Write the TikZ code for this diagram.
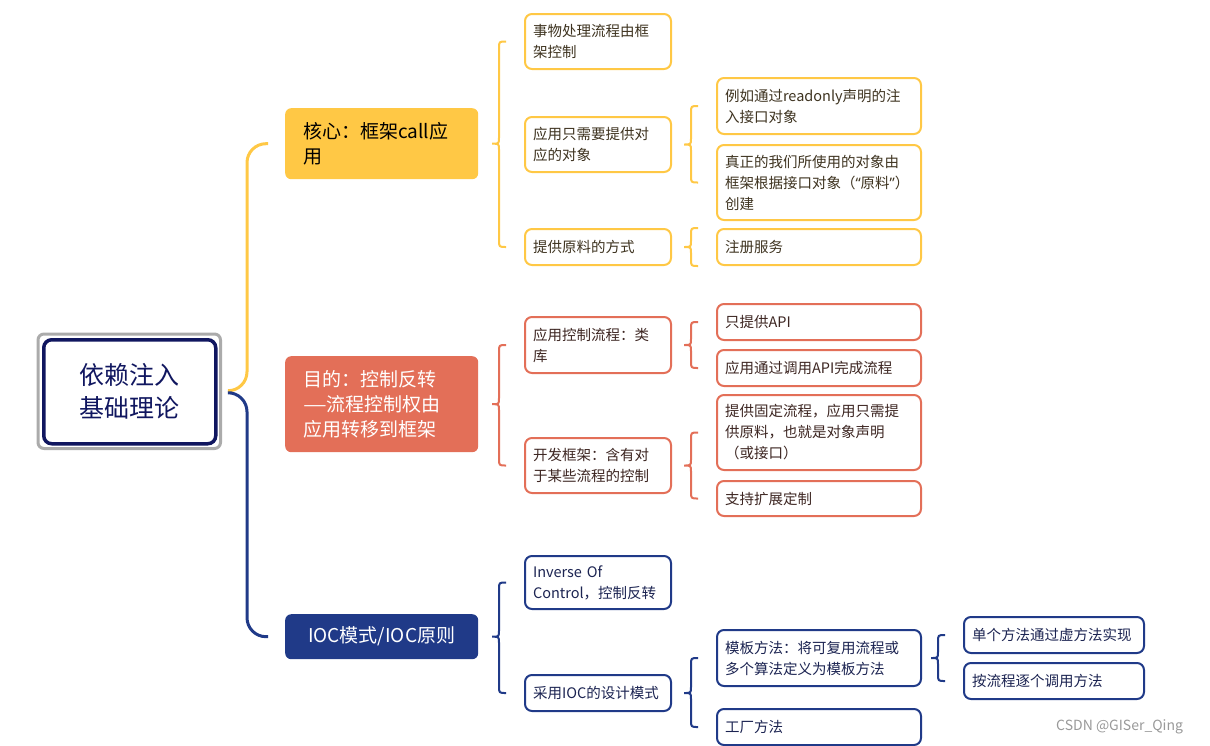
\documentclass[tikz,border=0pt]{standalone}
\usepackage{fontspec}
\setmainfont{Noto Sans CJK SC}
\newfontfamily\latinq{Noto Sans}
\usetikzlibrary{calc}
\definecolor{ycol}{HTML}{FFC845}
\definecolor{rcol}{HTML}{E36F58}
\definecolor{ncol}{HTML}{203A88}
\definecolor{rootcol}{HTML}{10165F}
\definecolor{ytext}{HTML}{3E3320}
\definecolor{rtext}{HTML}{3D2622}
\definecolor{ntext}{HTML}{1C2452}
\newcommand\mybrace[4]{\draw[#1] let \p1=(#3), \p2=(#4), \p3=(#2.east) in
  (\x1-18pt,\y1) .. controls (\x1-25pt,\y1) .. (\x1-25pt,\y1-7pt)
  -- (\x1-25pt,\y3+6pt) .. controls (\x1-25pt,\y3) .. (\x1-32pt,\y3)
  .. controls (\x1-25pt,\y3) .. (\x1-25pt,\y3-6pt)
  -- (\x1-25pt,\y2+7pt) .. controls (\x1-25pt,\y2) .. (\x1-18pt,\y2);}
\tikzset{
  box/.style={draw, rounded corners=7, line width=2pt, fill=white, anchor=north west,
    align=left, inner xsep=8pt, inner ysep=0pt, font=\fontsize{14.5}{21}\selectfont},
  l2/.style={box, text width=130pt, minimum width=146pt},
  l3/.style={box, text width=188pt, minimum width=204pt},
  l4/.style={box, text width=164pt, minimum width=180pt},
  yb/.style={draw=ycol, text=ytext},
  rb/.style={draw=rcol, text=rtext},
  nb/.style={draw=ncol, text=ntext},
  main/.style={rounded corners=6, anchor=north west, inner xsep=18pt, inner ysep=0pt,
    minimum width=193pt, font=\fontsize{19}{25}\selectfont},
  brc/.style={line width=2pt},
  mline/.style={line width=3pt, rounded corners=19},
}
\begin{document}
\begin{tikzpicture}[x=1pt,y=-1pt]
\useasboundingbox (0,0) rectangle (1210,745);
% root
\node[draw=rootcol, line width=3.5pt, rounded corners=8, anchor=north west,
  minimum width=172pt, minimum height=104pt, align=center, text=rootcol,
  font=\fontsize{25}{33}\selectfont] (root) at (42,338) {依赖注入\\基础理论};
\draw[line width=3pt, color=black!33, rounded corners=6]
  ($(root.north west)+(-4,-4)$) rectangle ($(root.south east)+(3,3)$);
% main nodes
\node[main, fill=ycol, text=black, minimum height=71pt, text width=157pt, align=left] (K) at (285,108) {核心：框架call应\\用};
\node[main, fill=rcol, text=white, minimum height=96pt, text width=157pt, align=left] (M) at (285,356)
  {目的：控制反转\\\scalebox{1.4}[1]{—}流程控制权由\\应用转移到框架};
\node[main, fill=ncol, text=white, minimum height=45pt, text width=157pt, align=center] (N) at (285,614) {IOC模式/IOC原则};
% main connectors
\draw[mline, ycol] ($(root.east)+(14,-1)$) -| ($(K.west)+(-38,0)$) -- ($(K.west)+(-17,0)$);
\draw[mline, ncol] ($(root.east)+(14,1)$) -| ($(N.west)+(-38,0)$) -- ($(N.west)+(-17,0)$);
% yellow branch
\node[l2, yb, minimum height=55pt] (A1) at (524,13) {事物处理流程由框\\架控制};
\node[l2, yb, minimum height=55pt] (A2) at (524,116) {应用只需要提供对\\应的对象};
\node[l2, yb, minimum height=36pt] (A3) at (524,228) {提供原料的方式};
\node[l3, yb, minimum height=56pt] (A2a) at (716,77) {例如通过readonly声明的注\\入接口对象};
\node[l3, yb, minimum height=75pt] (A2b) at (716,144) {真正的我们所使用的对象由\\框架根据接口对象（{\latinq “}原料{\latinq ”}）\\创建};
\node[l3, yb, minimum height=36pt] (A3a) at (716,228) {注册服务};
\mybrace{brc, ycol}{K}{A1.west}{A3.west}
\mybrace{brc, ycol}{A2}{A2a.west}{A2b.west}
\mybrace{brc, ycol}{A3}{A3a.north west}{A3a.south west}
% red branch
\node[l2, rb, minimum height=56pt] (B1) at (524,316) {应用控制流程：类\\库};
\node[l2, rb, minimum height=55pt] (B2) at (524,437) {开发框架：含有对\\于某些流程的控制};
\node[l3, rb, minimum height=36pt] (B1a) at (716,303) {只提供API};
\node[l3, rb, minimum height=36pt] (B1b) at (716,349) {应用通过调用API完成流程};
\node[l3, rb, minimum height=75pt] (B2a) at (716,394) {提供固定流程，应用只需提\\供原料，也就是对象声明\\（或接口）};
\node[l3, rb, minimum height=35pt] (B2b) at (716,480) {支持扩展定制};
\mybrace{brc, rcol}{M}{B1.west}{B2.west}
\mybrace{brc, rcol}{B1}{B1a.west}{B1b.west}
\mybrace{brc, rcol}{B2}{B2a.west}{B2b.west}
% navy branch
\node[l2, nb, minimum height=53pt] (C1) at (524,555) {Inverse Of\\Control，控制反转};
\node[l2, nb, minimum height=36pt] (C2) at (524,674) {采用IOC的设计模式};
\node[l3, nb, minimum height=56pt] (C2a) at (716,629) {模板方法：将可复用流程或\\多个算法定义为模板方法};
\node[l3, nb, minimum height=36pt] (C2b) at (716,708) {工厂方法};
\node[l4, nb, minimum height=36pt] (C2a1) at (963,616) {单个方法通过虚方法实现};
\node[l4, nb, minimum height=36pt] (C2a2) at (963,662) {按流程逐个调用方法};
\mybrace{brc, ncol}{N}{C1.west}{C2.west}
\mybrace{brc, ncol}{C2}{C2a.west}{C2b.west}
\mybrace{brc, ncol}{C2a}{C2a1.west}{C2a2.west}
% watermark
\node[anchor=west, text=black!40, font=\fontsize{14}{16}\selectfont, inner sep=0pt] (wm) at (1056,727) {CSDN @GISer\_Qing};
\end{tikzpicture}
\end{document}
